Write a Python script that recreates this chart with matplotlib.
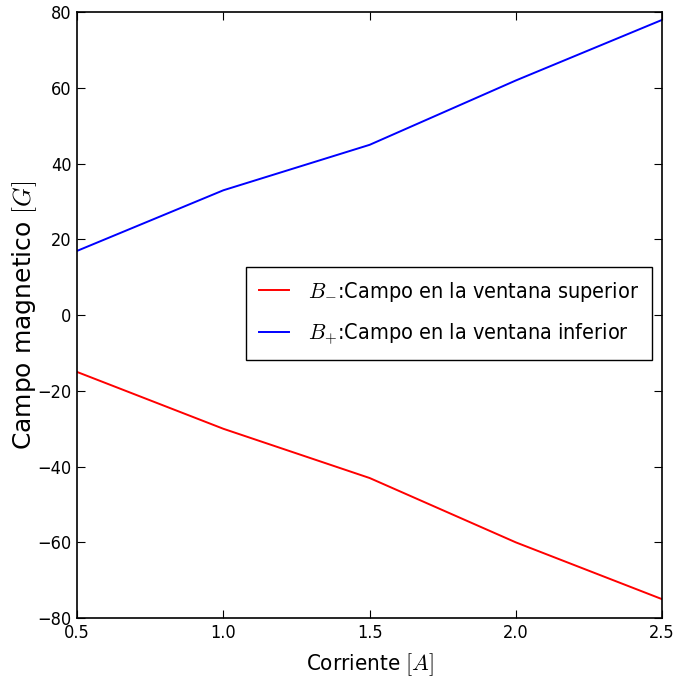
import matplotlib
matplotlib.use('Agg')
import matplotlib.pyplot as plt

plt.rcParams['mathtext.fontset'] = 'cm'
plt.rcParams['font.family'] = 'DejaVu Sans'
plt.rcParams['font.stretch'] = 'condensed'

# Current values and measured fields
corriente = [0.5, 1.0, 1.5, 2.0, 2.5]
b_menos = [-15, -30, -43, -60, -75]
b_mas = [17, 33, 45, 62, 78]

fig = plt.figure(figsize=(6.77, 6.83), dpi=100)
ax = fig.add_axes([0.114, 0.095, 0.864, 0.887])

ax.plot(corriente, b_menos, color='red', lw=1.4,
        label=r'$B_{-}$:Campo en la ventana superior')
ax.plot(corriente, b_mas, color='blue', lw=1.4,
        label=r'$B_{+}$:Campo en la ventana inferior')

ax.set_xlim(0.5, 2.5)
ax.set_ylim(-80, 80)
ax.set_xticks([0.5, 1.0, 1.5, 2.0, 2.5])
ax.set_yticks(range(-80, 81, 20))
ax.tick_params(direction='in', top=True, right=True, labelsize=13,
               length=6, width=0.8, pad=4)
for s in ax.spines.values():
    s.set_linewidth(1.2)

ax.set_xlabel(r'Corriente $[A]$', fontsize=16, labelpad=7)
ax.set_ylabel(r'Campo magnetico $[G]$', fontsize=18, fontstretch='normal')
ax.yaxis.set_label_coords(-0.066, 0.5)

leg = ax.legend(loc='center right', bbox_to_anchor=(0.983, 0.503),
                borderaxespad=0, fontsize=15.5, fancybox=False, framealpha=1,
                borderpad=0.6, labelspacing=0.8, handlelength=1.4,
                handletextpad=0.9)
leg.get_frame().set_edgecolor('black')
leg.get_frame().set_linewidth(1.0)

fig.savefig('out.png', dpi=100)
